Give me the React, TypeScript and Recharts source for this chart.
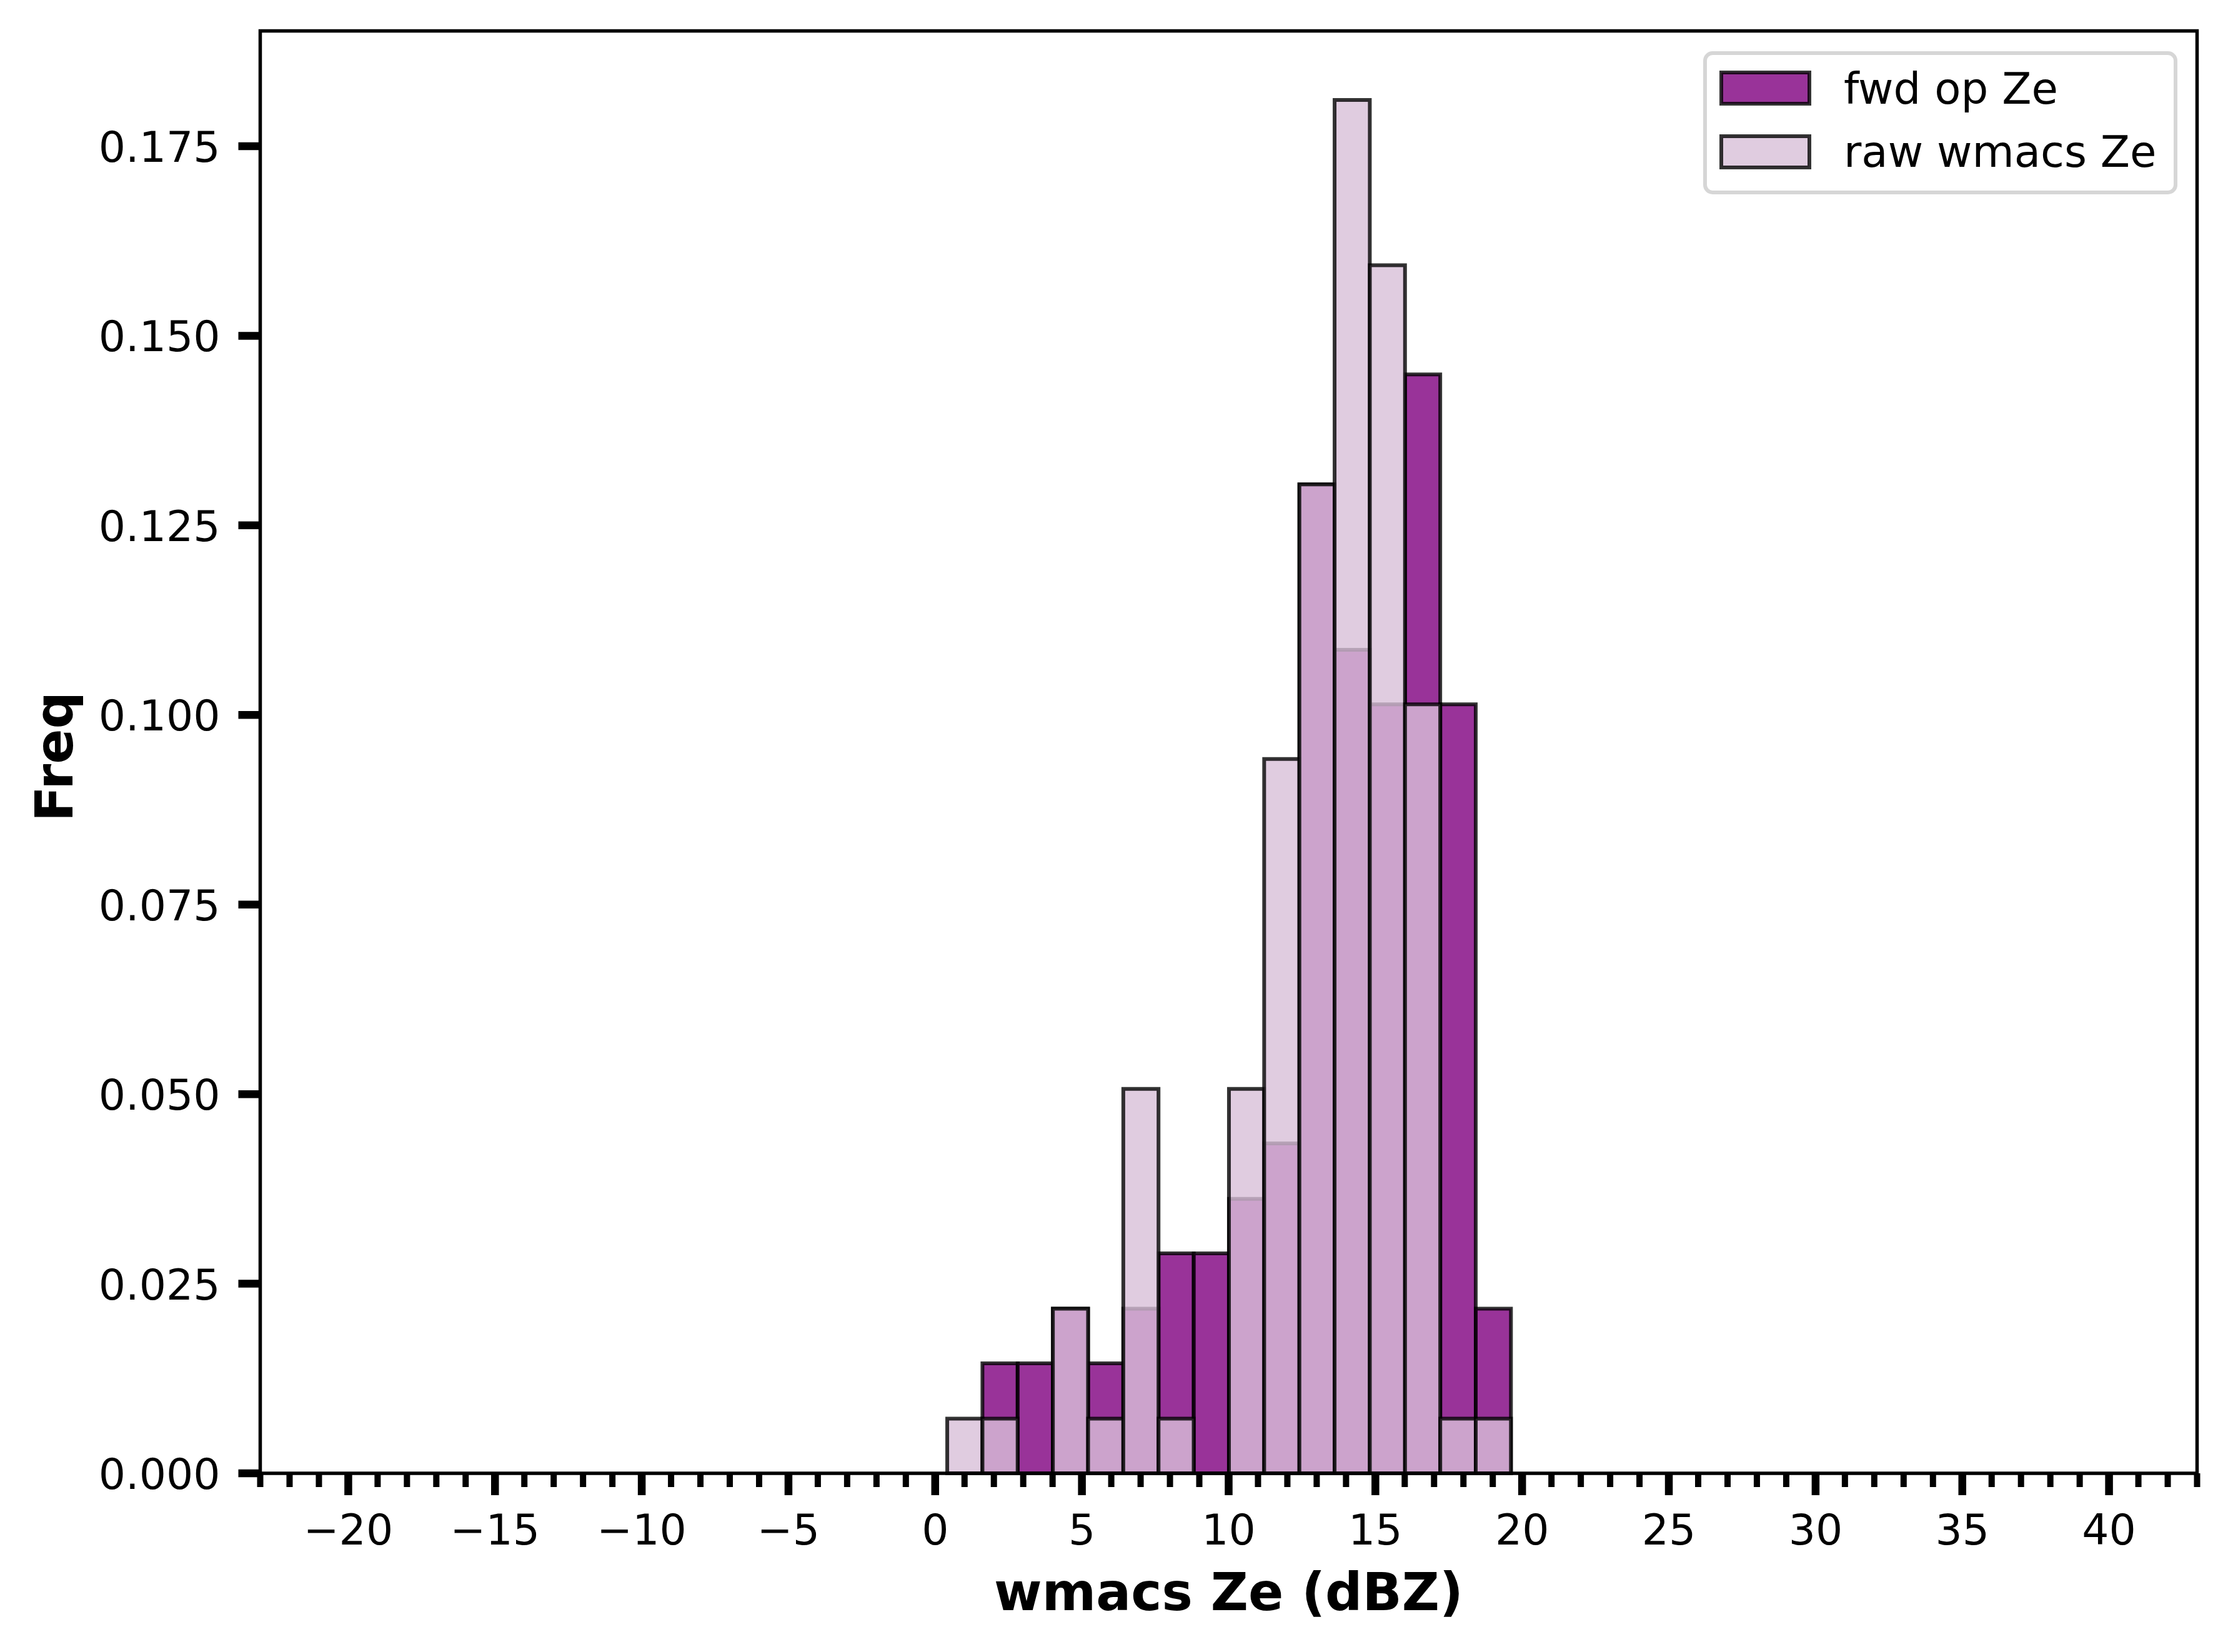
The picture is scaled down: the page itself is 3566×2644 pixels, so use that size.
import React from "react";
import { ComposedChart, XAxis, YAxis, ReferenceArea } from "recharts";

// shared bin edges, dBZ
const binEdges = [
  0.41, 1.61, 2.81, 4.01, 5.21, 6.41, 7.61, 8.81, 10.01, 11.21, 12.41, 13.61,
  14.81, 16.01, 17.21, 18.42, 19.62,
];

// density per bin
const fwdOpZe = [
  0, 0.0145, 0.0145, 0.0217, 0.0145, 0.0217, 0.029, 0.029, 0.0362, 0.0435,
  0.1304, 0.1086, 0.1014, 0.1449, 0.1014, 0.0217,
];
const rawWmacsZe = [
  0.0072, 0.0072, 0, 0.0217, 0.0072, 0.0507, 0.0072, 0, 0.0507, 0.0942,
  0.1304, 0.1811, 0.1593, 0.1014, 0.0072, 0.0072,
];

const seriesNames = ["fwd op Ze", "raw wmacs Ze"];
const xMajorTicks = [-20, -15, -10, -5, 0, 5, 10, 15, 20, 25, 30, 35, 40];
const yTicks = [0, 0.025, 0.05, 0.075, 0.1, 0.125, 0.15, 0.175];
const xDomain: [number, number] = [-23, 43];
const yDomain: [number, number] = [0, 0.1902];

const W = 3566;
const H = 2644;
const LEFT = 416.5;
const TOP = 49.5;
const RIGHT = 3516.5;
const BOTTOM = 2358;

const FONT = "DejaVu Sans";
const FWD_FILL = "#800080";
const RAW_FILL = "#D8BFD8";
const ALPHA = 0.8;

// every integer in the domain gets a tick, majors get labels
const xTicks: number[] = [];
for (let v = xDomain[0]; v <= xDomain[1]; v++) xTicks.push(v);

const rows = binEdges.slice(0, -1).map((lo, i) => ({
  lo,
  hi: binEdges[i + 1],
  mid: (lo + binEdges[i + 1]) / 2,
  fwd: fwdOpZe[i],
  raw: rawWmacsZe[i],
}));

const fmtX = (v: number) => (v < 0 ? `\u2212${Math.abs(v)}` : `${v}`);

function XTick(props: any) {
  const { x, y, payload } = props;
  const v = payload.value;
  const major = xMajorTicks.includes(v);
  return (
    <g>
      <line
        x1={x}
        x2={x}
        y1={y}
        y2={y + (major ? 35 : 22)}
        stroke="#000"
        strokeWidth={major ? 12.5 : 10}
      />
      {major && (
        <text
          x={x}
          y={y + 114}
          textAnchor="middle"
          fontFamily={FONT}
          fontSize={68}
          fill="#000"
        >
          {fmtX(v)}
        </text>
      )}
    </g>
  );
}

function YTick(props: any) {
  const { x, y, payload } = props;
  return (
    <g>
      <line x1={x - 35} x2={x} y1={y} y2={y} stroke="#000" strokeWidth={12.5} />
      <text
        x={x - 64}
        y={y + 25}
        textAnchor="end"
        fontFamily={FONT}
        fontSize={68}
        fill="#000"
      >
        {payload.value.toFixed(3)}
      </text>
    </g>
  );
}

const xLabel = () => (
  <text
    x={(LEFT + RIGHT) / 2}
    y={2577}
    textAnchor="middle"
    fontFamily={FONT}
    fontSize={83}
    fontWeight="bold"
    fill="#000"
  >
    wmacs Ze (dBZ)
  </text>
);

const yLabel = () => (
  <text
    transform={`translate(116, 1211) rotate(-90)`}
    textAnchor="middle"
    fontFamily={FONT}
    fontSize={83}
    fontWeight="bold"
    fill="#000"
  >
    Freq
  </text>
);

function HistLegend() {
  const fills = [FWD_FILL, RAW_FILL];
  return (
    <svg
      width={W}
      height={H}
      style={{ position: "absolute", left: 0, top: 0, pointerEvents: "none" }}
    >
      <rect
        x={2729}
        y={85}
        width={753}
        height={223}
        rx={12}
        fill="#fff"
        fillOpacity={0.8}
        stroke="#d6d6d6"
        strokeWidth={6}
      />
      {seriesNames.map((name, i) => (
        <g key={name}>
          <rect
            x={2755}
            y={116 + i * 102}
            width={141}
            height={50}
            fill={fills[i]}
            fillOpacity={ALPHA}
            stroke="#000"
            strokeOpacity={ALPHA}
            strokeWidth={6}
          />
          <text
            x={2951}
            y={166 + i * 101}
            fontFamily={FONT}
            fontSize={69}
            fill="#000"
          >
            {name}
          </text>
        </g>
      ))}
    </svg>
  );
}

export default function App() {
  return (
    <div
      style={{
        position: "absolute",
        left: 0,
        top: 0,
        width: W,
        height: H,
        background: "#fff",
      }}
    >
      <ComposedChart
        width={W}
        height={H}
        data={rows}
        margin={{ top: TOP, right: W - RIGHT, bottom: 0, left: 0 }}
      >
        <XAxis
          type="number"
          dataKey="mid"
          domain={xDomain}
          allowDataOverflow
          ticks={xTicks}
          interval={0}
          tickSize={0}
          tickMargin={0}
          tickLine={false}
          axisLine={false}
          height={H - BOTTOM}
          tick={(p: any) => <XTick {...p} />}
          label={xLabel}
        />
        <YAxis
          type="number"
          domain={yDomain}
          allowDataOverflow
          ticks={yTicks}
          interval={0}
          tickSize={0}
          tickMargin={0}
          tickLine={false}
          axisLine={false}
          width={LEFT}
          tick={(p: any) => <YTick {...p} />}
          label={yLabel}
        />
        {rows
          .filter((r) => r.fwd > 0)
          .map((r) => (
            <ReferenceArea
              key={`fwd-${r.lo}`}
              x1={r.lo}
              x2={r.hi}
              y1={0}
              y2={r.fwd}
              ifOverflow="visible"
              fill={FWD_FILL}
              fillOpacity={ALPHA}
              stroke="#000"
              strokeOpacity={ALPHA}
              strokeWidth={6}
            />
          ))}
        {rows
          .filter((r) => r.raw > 0)
          .map((r) => (
            <ReferenceArea
              key={`raw-${r.lo}`}
              x1={r.lo}
              x2={r.hi}
              y1={0}
              y2={r.raw}
              ifOverflow="visible"
              fill={RAW_FILL}
              fillOpacity={ALPHA}
              stroke="#000"
              strokeOpacity={ALPHA}
              strokeWidth={6}
            />
          ))}
        <ReferenceArea
          x1={xDomain[0]}
          x2={xDomain[1]}
          y1={yDomain[0]}
          y2={yDomain[1]}
          ifOverflow="visible"
          fill="none"
          stroke="#000"
          strokeWidth={5.5}
        />
      </ComposedChart>
      <HistLegend />
    </div>
  );
}
